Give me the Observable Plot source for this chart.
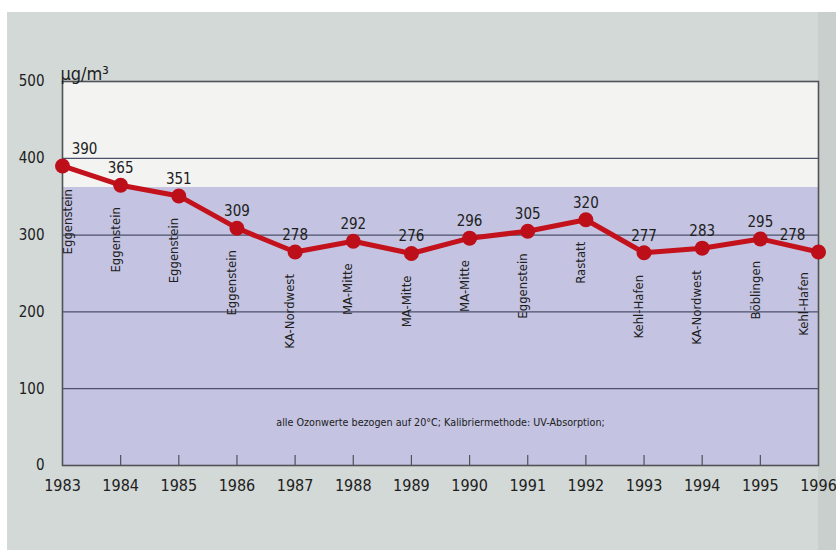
<!DOCTYPE html>
<html><head><meta charset="utf-8">
<script src="https://cdn.jsdelivr.net/npm/d3@7"></script>
<script src="https://cdn.jsdelivr.net/npm/@observablehq/plot@0.6"></script>
<style>
body{margin:0;background:#fff;width:836px;height:550px;overflow:hidden;}
#bg{position:absolute;left:7px;top:12px;width:829px;height:538px;background:#d3d9d7;}
#edge{position:absolute;left:818px;top:12px;width:18px;height:538px;background:#c9cfcd;}
#chart{position:absolute;left:0;top:0;}
</style></head><body>
<div id="bg"></div><div id="edge"></div><div id="chart"></div>
<script>
const years = [1983,1984,1985,1986,1987,1988,1989,1990,1991,1992,1993,1994,1995,1996];
const values = [390,365,351,309,278,292,276,296,305,320,277,283,295,278];
const stations = ["Eggenstein","Eggenstein","Eggenstein","Eggenstein","KA-Nordwest","MA-Mitte","MA-Mitte","MA-Mitte","Eggenstein","Rastatt","Kehl-Hafen","KA-Nordwest","Böblingen","Kehl-Hafen"];
const yTicks = [0,100,200,300,400,500];
const gridLines = [100,200,300,400];
const bandLimit = 362;
const unit = "µg/m³";
const note = "alle Ozonwerte bezogen auf 20°C; Kalibriermethode: UV-Absorption;";

const data = years.map((y,i)=>({year:y, value:values[i], station:stations[i], i}));
const n = data.length;
const font = '"DejaVu Sans Condensed","Liberation Sans Narrow",sans-serif';
const ink = "#202020";
const red = "#c3121c";

const chart = Plot.plot({
  width: 836, height: 550,
  marginLeft: 62, marginRight: 18, marginTop: 81, marginBottom: 85,
  x: {domain: [1983, 1996]},
  y: {domain: [0, 500]},
  style: {background: "transparent", fontFamily: font, color: ink},
  marks: [
    Plot.rect([{y1: 0, y2: bandLimit}], {y1: "y1", y2: "y2", fill: "#c4c4e2"}),
    Plot.rect([{y1: bandLimit, y2: 500}], {y1: "y1", y2: "y2", fill: "#f3f4f2"}),
    Plot.ruleY(gridLines, {stroke: "#4d5068", strokeWidth: 1.2}),
    Plot.frame({stroke: "#505258", strokeWidth: 1.6}),
    Plot.ruleX(years.slice(1, -1), {y1: 0, y2: 13, stroke: "#505258", strokeWidth: 1.2}),
    Plot.axisY(yTicks, {tickSize: 0, tickPadding: 18, fontSize: 15, label: null, fill: ink}),
    Plot.axisX(years, {tickSize: 0, tickPadding: 14, fontSize: 16, tickFormat: "d", label: null, fill: ink}),
    Plot.line(data, {x: "year", y: "value", stroke: red, strokeWidth: 5}),
    Plot.dot(data, {x: "year", y: "value", r: 7.5, fill: "#bd0f1a"}),
    // value labels
    Plot.text(data, {filter: d => d.i > 0 && d.i < n - 1, x: "year", y: "value", text: d => String(d.value), dy: -17, fontSize: 15, fill: ink}),
    Plot.text(data, {filter: d => d.i === 0, x: "year", y: "value", text: d => String(d.value), dx: 22, dy: -17, fontSize: 15, fill: ink}),
    Plot.text(data, {filter: d => d.i === n - 1, x: "year", y: "value", text: d => String(d.value), dx: -26, dy: -17, fontSize: 15, fill: ink}),
    // station labels
    Plot.text(data, {filter: d => d.i > 0 && d.i < n - 1, x: "year", y: "value", text: "station", rotate: -90, textAnchor: "end", dx: -5, dy: 22, fontSize: 13, fill: ink}),
    Plot.text(data, {filter: d => d.i === 0, x: "year", y: "value", text: "station", rotate: -90, textAnchor: "end", dx: 5, dy: 23, fontSize: 13, fill: ink}),
    Plot.text(data, {filter: d => d.i === n - 1, x: "year", y: "value", text: "station", rotate: -90, textAnchor: "end", dx: -15, dy: 20, fontSize: 13, fill: ink}),
    Plot.text([unit], {frameAnchor: "top-left", text: d => d, textAnchor: "start", dx: -2, dy: -14, fontSize: 18, fill: ink}),
    Plot.text([note], {frameAnchor: "bottom", text: d => d, dy: -40, fontSize: 10.7, fill: ink})
  ]
});
document.getElementById("chart").appendChild(chart);
</script>
</body></html>
